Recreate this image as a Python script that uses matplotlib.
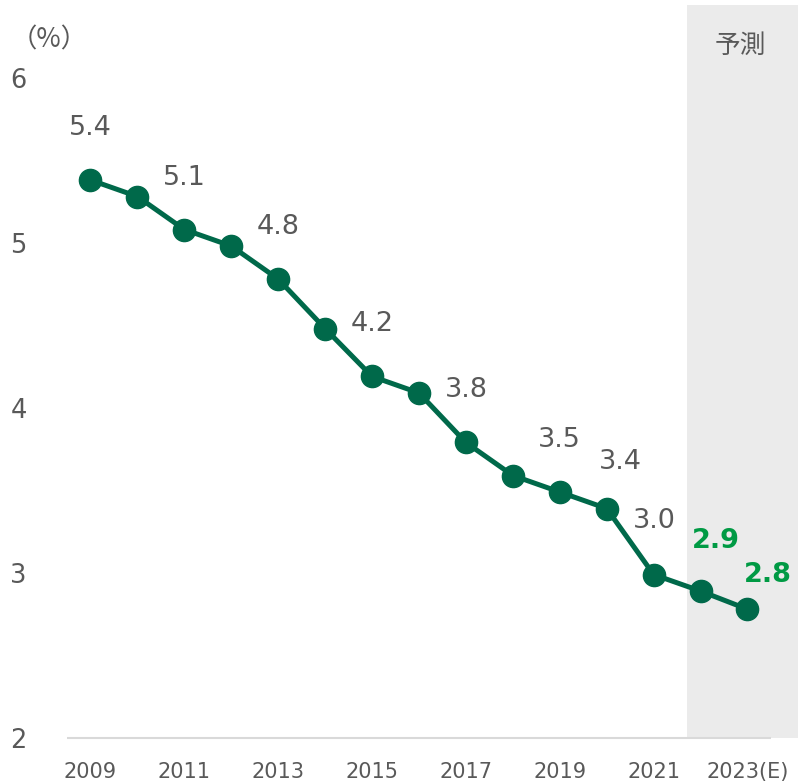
import matplotlib
matplotlib.use("Agg")
import matplotlib.pyplot as plt

# データ
years = list(range(2009, 2024))
rates = [5.38, 5.28, 5.08, 4.98, 4.78, 4.48, 4.19, 4.09, 3.79, 3.59, 3.49, 3.39, 2.99, 2.89, 2.78]
tick_years = [2009, 2011, 2013, 2015, 2017, 2019, 2021, 2023]
tick_labels = ["2009", "2011", "2013", "2015", "2017", "2019", "2021", "2023(E)"]
yticks = [2, 3, 4, 5, 6]
labeled_years = [2009, 2011, 2013, 2015, 2017, 2019, 2020, 2021, 2022, 2023]
forecast_years = [2022, 2023]

GRAY_TXT = "#595959"
LINE_GREEN = "#00694A"
LABEL_GREEN = "#009A44"

plt.rcParams["font.family"] = ["DejaVu Sans", "Noto Sans CJK JP"]

fig = plt.figure(figsize=(7.98, 7.83), dpi=100)
W, H = 798, 783
ax = fig.add_axes([67 / W, 45 / H, (W - 67) / W, 733 / H])

x_left = 2008.5
x_right = x_left + 731 / 46.93
ax.set_xlim(x_left, x_right)
ax.set_ylim(2, 6.44)

# 予測エリア
ax.axvspan(2021.72, x_right, color="#EBEBEB", zorder=0, lw=0)
ax.text(740 / W, (H - 46) / H, "予測", transform=fig.transFigure,
        ha="center", va="center", fontsize=18.5, color=GRAY_TXT,
        family=["Noto Sans CJK JP"])

# ベースライン
ax.hlines(2, x_left, 2023.5, color="#D9D9D9", lw=1.5, zorder=1, clip_on=False)

ax.plot(years, rates, color=LINE_GREEN, lw=3.6, marker="o", markersize=16,
        zorder=3, clip_on=False)

# ラベル位置のずれ(px)
offsets = {2020: (14, -47), 2021: (1, -54), 2022: (15, -50), 2023: (20, -34)}
for yr, v in zip(years, rates):
    if yr not in labeled_years:
        continue
    dx, dy = offsets.get(yr, (0, -52))
    forecast = yr in forecast_years
    ax.annotate(f"{v:.1f}", (yr, v), xytext=(dx * 0.72, -dy * 0.72),
                textcoords="offset points", ha="center", va="center",
                fontsize=19.5, color=LABEL_GREEN if forecast else GRAY_TXT,
                fontweight="bold" if forecast else "normal", zorder=4)

ax.set_xticks(tick_years)
ax.set_xticklabels(tick_labels)
ax.set_yticks(yticks)
ax.tick_params(axis="x", length=0, pad=17, labelsize=15, labelcolor=GRAY_TXT)
ax.tick_params(axis="y", length=0, pad=29, labelsize=18.5, labelcolor=GRAY_TXT)
for s in ax.spines.values():
    s.set_visible(False)

fig.text(49 / W, (H - 40) / H, "（%）", ha="center", va="center",
         fontsize=19, color=GRAY_TXT, family=["Noto Sans CJK JP"])

fig.savefig("out.png", dpi=100)
